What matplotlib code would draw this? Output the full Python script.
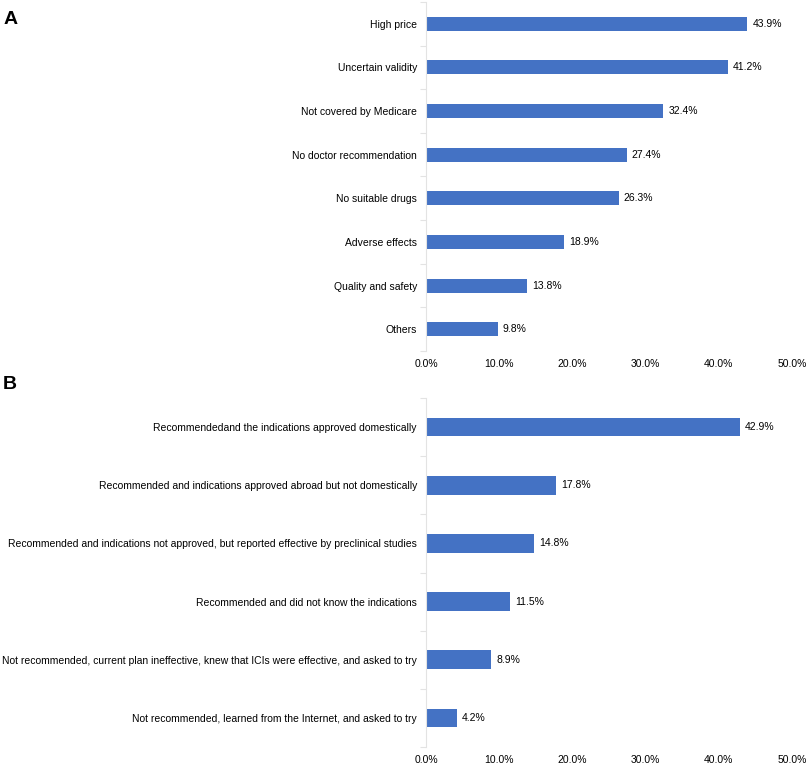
import matplotlib.pyplot as plt
import numpy as np

plt.rcParams['font.family'] = ['Liberation Sans', 'DejaVu Sans']

# Panel A - reasons
razones = ["High price", "Uncertain validity", "Not covered by Medicare",
           "No doctor recommendation", "No suitable drugs", "Adverse effects",
           "Quality and safety", "Others"]
valores_a = [43.9, 41.2, 32.4, 27.4, 26.3, 18.9, 13.8, 9.8]

# Panel B - situations
situaciones = ["Recommendedand the indications approved domestically",
               "Recommended and indications approved abroad but not domestically",
               "Recommended and indications not approved, but reported effective by preclinical studies",
               "Recommended and did not know the indications",
               "Not recommended, current plan ineffective, knew that ICIs were effective, and asked to try",
               "Not recommended, learned from the Internet, and asked to try"]
valores_b = [42.9, 17.8, 14.8, 11.5, 8.9, 4.2]

ticks_x = [0, 10, 20, 30, 40, 50]
color_barra = '#4472C4'

fig = plt.figure(figsize=(8.09, 7.65), dpi=100)
ax_a = fig.add_axes([0.5266, 0.5412, 0.4524, 0.4562])
ax_b = fig.add_axes([0.5266, 0.0235, 0.4524, 0.4562])


def dibujar(ax, etiquetas, valores):
    n = len(etiquetas)
    y = np.arange(n)
    ax.barh(y, valores, height=0.32, color=color_barra)
    for yi, v in zip(y, valores):
        ax.text(v + 0.7, yi, f"{v:.1f}%", va='center', ha='left', fontsize=7.5)
    ax.set_ylim(n - 0.5, -0.5)
    ax.set_xlim(0, 50)
    ax.set_yticks(y)
    ax.set_yticklabels(etiquetas, fontsize=7.5)
    ax.tick_params(axis='y', length=0, pad=6.5)
    # pequeñas marcas entre categorias
    ax.set_yticks(np.arange(n + 1) - 0.5, minor=True)
    ax.tick_params(axis='y', which='minor', length=4, color='#e3e3e3', width=0.8)
    ax.set_xticks(ticks_x)
    ax.set_xticklabels([f"{t:.1f}%" for t in ticks_x], fontsize=7.5)
    ax.tick_params(axis='x', length=0, pad=5.5)
    for s in ['top', 'right', 'bottom']:
        ax.spines[s].set_visible(False)
    ax.spines['left'].set_color('#e3e3e3')
    ax.spines['left'].set_linewidth(0.8)


dibujar(ax_a, razones, valores_a)
dibujar(ax_b, situaciones, valores_b)

fig.text(0.004, 0.975, "A", fontsize=14, fontweight='bold', va='center', ha='left')
fig.text(0.004, 0.497, "B", fontsize=14, fontweight='bold', va='center', ha='left')

plt.savefig('out.png', dpi=100)
